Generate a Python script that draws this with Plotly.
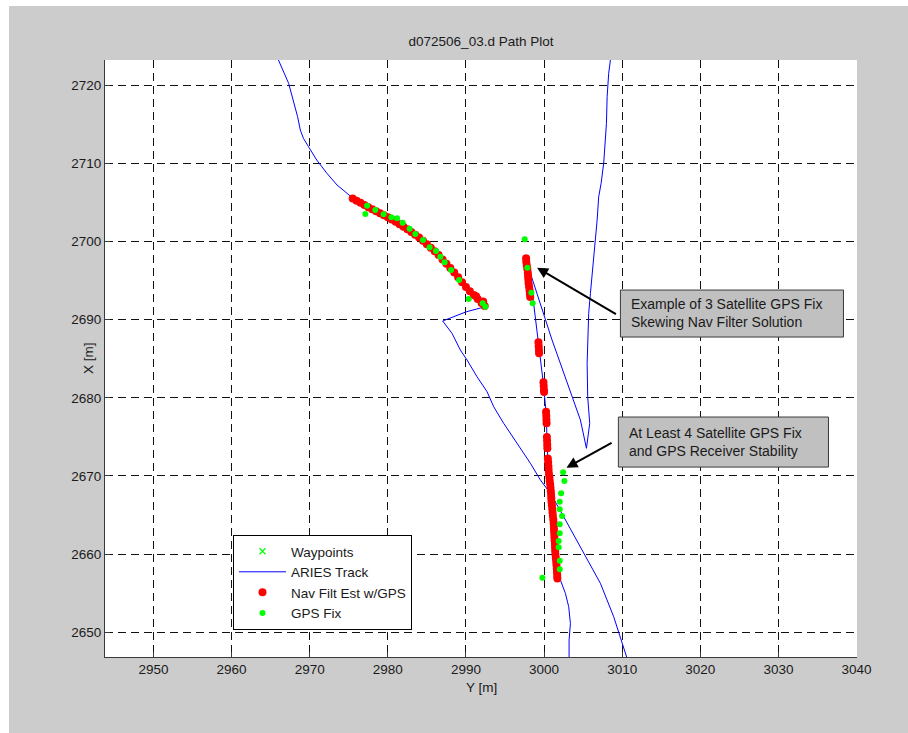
import plotly.graph_objects as go

# ---- ARIES track (vehicle path), two passes through the view ----
track_y = [
    # first pass: enters from top left, runs along the nav-filter arc, kinks, exits bottom
    2965.3, 2966.0, 2967.3, 2967.9, 2968.45, 2968.8, 2969.2, 2969.85, 2970.9, 2972.2,
    2973.5, 2975.2, 2975.45, 2977.76, 2979.9, 2982.02, 2984.16, 2986.3, 2988.43, 2990.14,
    2991.42, 2992.48, 2990.05, 2987.02, 2988.22, 2989.28, 2990.14, 2991.42, 2992.7, 2993.55,
    2994.83, 2996.54, 2998.25, 2999.53, 3000.81, 3002.51, 3005.07, 3007.21, 3008.91, 3010.63,
    3011.0,
    None,
    # second pass: enters from bottom, climbs the GPS column, doubles back, exits top
    3003.2, 3003.2, 3003.37, 3003.15, 3002.73, 3002.09, 3001.66, 3001.41, 3001.23, 3001.02,
    3000.72, 3000.51, 3000.38, 3000.29, 2999.95, 2999.31, 2999.1, 2998.25, 2997.73, 2998.46,
    3001.02, 3002.09, 3003.37, 3004.65, 3005.42, 3005.58, 3005.84, 3005.71, 3005.58, 3005.51,
    3005.71, 3005.93, 3006.27, 3006.57, 3006.79, 3006.99, 3007.3, 3007.63, 3007.85, 3007.98,
    3008.07, 3008.27, 3008.49, 3008.7,
]
track_x = [
    2725.0, 2723.2, 2720.22, 2718.08, 2715.95, 2714.24, 2713.18, 2712.11, 2710.41, 2708.71,
    2707.21, 2705.8, 2705.51, 2704.23, 2703.16, 2701.88, 2700.39, 2698.48, 2696.12, 2694.0,
    2692.72, 2691.65, 2691.0, 2689.82, 2688.24, 2686.11, 2684.83, 2682.69, 2680.78, 2678.86,
    2676.73, 2674.18, 2671.62, 2669.48, 2667.78, 2664.79, 2660.11, 2656.27, 2652.0, 2646.88,
    2645.5,
    None,
    2645.5, 2649.02, 2651.15, 2653.28, 2654.99, 2656.69, 2657.11, 2660.15, 2663.47, 2665.26,
    2669.23, 2671.53, 2674.34, 2677.54, 2681.5, 2686.49, 2688.24, 2695.44, 2697.75, 2695.28,
    2687.39, 2684.41, 2680.99, 2677.16, 2673.54, 2675.02, 2676.73, 2678.44, 2680.14, 2684.41,
    2690.8, 2693.36, 2696.76, 2700.18, 2702.73, 2705.71, 2707.43, 2709.99, 2712.97, 2715.1,
    2718.5, 2721.5, 2723.2, 2725.0,
]

# ---- Nav filter estimate with GPS ----
nav_y = [
    # arc on the first pass
    2975.5, 2976.0, 2976.5, 2977.0, 2977.5, 2978.0, 2978.5, 2979.0, 2979.5, 2980.0,
    2980.5, 2981.0, 2981.5, 2982.0, 2982.5, 2983.0, 2983.5, 2984.0, 2984.5, 2985.0,
    2985.5, 2986.0, 2986.5, 2987.0, 2987.5, 2988.0, 2988.5, 2989.0, 2989.5, 2990.0,
    2990.5, 2991.0, 2991.3, 2991.5, 2992.0, 2992.2, 2992.4,
    # column on the second pass, top cluster
    2997.7, 2997.72, 2997.78, 2997.85, 2997.92, 2997.95, 2997.98, 2998.02, 2998.08, 2998.14,
    2998.18, 2998.22,
    # isolated clusters
    2999.28, 2999.31, 2999.34, 2999.36,
    2999.92, 2999.95, 2999.98, 3000.0,
    3000.25, 3000.28, 3000.3, 3000.32,
    3000.36, 3000.38, 3000.4, 3000.42,
    3000.48, 3000.52, 3000.55, 3000.58,
    # lower continuous run
    3000.62, 3000.68, 3000.72, 3000.78, 3000.82, 3000.86, 3000.9, 3000.92, 3000.95, 3001.0,
    3001.05, 3001.08, 3001.12, 3001.18, 3001.22, 3001.25, 3001.27, 3001.3, 3001.32, 3001.35,
    3001.38, 3001.4, 3001.42, 3001.45, 3001.5, 3001.55, 3001.58, 3001.62, 3001.65, 3001.68,
    3001.7,
]
nav_x = [
    2705.48, 2705.21, 2704.93, 2704.65, 2704.37, 2704.11, 2703.86, 2703.61, 2703.36, 2703.1,
    2702.8, 2702.5, 2702.19, 2701.89, 2701.55, 2701.2, 2700.85, 2700.5, 2700.09, 2699.64,
    2699.2, 2698.75, 2698.26, 2697.7, 2697.15, 2696.6, 2696.03, 2695.41, 2694.79, 2694.17,
    2693.64, 2693.14, 2693.0, 2692.64, 2692.13, 2692.3, 2691.73,
    2697.85, 2697.4, 2696.95, 2696.5, 2696.0, 2695.55, 2695.1, 2694.65, 2694.2, 2693.75,
    2693.3, 2692.9,
    2687.1, 2686.6, 2686.1, 2685.7,
    2682.0, 2681.5, 2681.0, 2680.75,
    2678.2, 2677.7, 2677.2, 2676.75,
    2675.0, 2674.5, 2674.0, 2673.55,
    2672.25, 2671.75, 2671.25, 2670.8,
    2670.3, 2669.85, 2669.4, 2668.95, 2668.5, 2668.05, 2667.6, 2667.15, 2666.7, 2666.25,
    2665.8, 2665.35, 2664.9, 2664.45, 2664.0, 2663.55, 2663.1, 2662.65, 2662.2, 2661.75,
    2661.3, 2660.85, 2660.4, 2659.95, 2659.5, 2659.05, 2658.6, 2658.15, 2657.7, 2657.25,
    2656.9,
]

# ---- raw GPS fixes ----
gps_y = [
    2977.34, 2977.12, 2978.4, 2979.46, 2980.45, 2981.18, 2981.9, 2982.79, 2983.52, 2984.51,
    2985.35, 2986.17, 2986.72, 2987.27, 2988.09, 2989.12, 2990.35, 2992.14, 2992.48,
    2997.52, 2997.86, 2998.37, 2998.54,
    3002.43, 3002.6, 3002.18, 3002.0, 3002.0, 3002.3, 3002.0, 3002.0, 3001.87, 3001.87,
    3002.0, 3002.0, 2999.78,
]
gps_x = [
    2704.56, 2703.5, 2704.01, 2703.46, 2703.08, 2702.95, 2702.39, 2701.62, 2700.94, 2700.18,
    2699.24, 2698.77, 2698.04, 2697.32, 2696.34, 2695.06, 2692.63, 2692.08, 2691.65,
    2700.27, 2696.63, 2693.44, 2692.08,
    2670.47, 2669.35, 2667.78, 2666.71, 2665.74, 2664.88, 2663.82, 2662.67, 2661.68, 2660.87,
    2659.16, 2658.06, 2656.99,
]

# ---- axes ----
y_range = [2943.8, 3040.05]
x_range = [2646.85, 2723.2]
y_ticks = [2950, 2960, 2970, 2980, 2990, 3000, 3010, 3020, 3030, 3040]
x_ticks = [2650, 2660, 2670, 2680, 2690, 2700, 2710, 2720]

# ---- callouts: arrow tips, arrow tails, box corners, text anchors ----
note_texts = [
    "Example of 3 Satellite GPS Fix<br>Skewing Nav Filter Solution",
    "At Least 4 Satellite GPS Fix<br>and GPS Receiver Stability",
]
note_tips = [(2999.10, 2696.63), (3002.86, 2671.06)]
note_tails = [(3009.39, 2690.58), (3008.83, 2674.34)]
note_boxes = [(3009.77, 2687.77, 3038.32, 2693.78), (3009.51, 2671.14, 3036.40, 2677.54)]
note_text_pos = [(3010.92, 2690.84), (3010.63, 2674.34)]

FONT = "Liberation Sans, Arial, Helvetica, sans-serif"
TXT = "#1a1a1a"

fig = go.Figure()

fig.add_trace(go.Scatter(
    x=[None], y=[None], mode="markers", name="Waypoints",
    marker=dict(symbol="x-thin", size=6, color="#00ff00", line=dict(width=1.2, color="#00ff00")),
))
fig.add_trace(go.Scatter(
    x=track_y, y=track_x, mode="lines", name="ARIES Track",
    line=dict(color="#0000ff", width=1), connectgaps=False,
))
fig.add_trace(go.Scatter(
    x=nav_y, y=nav_x, mode="markers", name="Nav Filt Est w/GPS",
    marker=dict(color="#ff0000", size=8, line=dict(width=0)),
))
fig.add_trace(go.Scatter(
    x=gps_y, y=gps_x, mode="markers", name="GPS Fix",
    marker=dict(color="#00ff00", size=6, line=dict(width=0)),
))

axis_common = dict(
    showgrid=True, gridcolor="#111111", gridwidth=1, griddash="8px,5px",
    showline=True, linecolor="#3a3a3a", linewidth=1,
    ticks="inside", ticklen=5, tickcolor="#3a3a3a", tickwidth=1,
    zeroline=False, mirror=False,
    tickfont=dict(family=FONT, size=13.5, color=TXT),
)

fig.update_xaxes(range=y_range, tickvals=y_ticks, **axis_common)
fig.update_yaxes(range=x_range, tickvals=x_ticks, **axis_common)

shapes = [
    # white strips along the left and top edges of the page
    dict(type="rect", xref="paper", yref="paper", x0=-0.3, x1=-0.12766, y0=-0.3, y1=1.3,
         fillcolor="white", line=dict(width=0), layer="below"),
    dict(type="rect", xref="paper", yref="paper", x0=-0.3, x1=1.3, y0=1.0905, y1=1.3,
         fillcolor="white", line=dict(width=0), layer="below"),
]
for (bx0, by0, bx1, by1) in note_boxes:
    shapes.append(dict(type="rect", xref="x", yref="y", x0=bx0, y0=by0, x1=bx1, y1=by1,
                       fillcolor="#c0c0c0", line=dict(color="#3a3a3a", width=1), layer="above"))

annotations = []
for (tx, ty), (sx, sy) in zip(note_tips, note_tails):
    annotations.append(dict(
        x=tx, y=ty, xref="x", yref="y", ax=sx, ay=sy, axref="x", ayref="y",
        text="", showarrow=True, arrowhead=2, arrowsize=1.1, arrowwidth=2, arrowcolor="black",
    ))
for txt, (px, py) in zip(note_texts, note_text_pos):
    annotations.append(dict(
        x=px, y=py, xref="x", yref="y", text=txt, showarrow=False,
        xanchor="left", yanchor="middle", align="left",
        font=dict(family=FONT, size=14, color=TXT),
    ))
annotations.append(dict(
    x=0.5, y=-0.0519, xref="paper", yref="paper", text="Y [m]", showarrow=False,
    xanchor="center", yanchor="middle", font=dict(family=FONT, size=13.5, color=TXT),
))
annotations.append(dict(
    x=-0.0226, y=0.5008, xref="paper", yref="paper", text="X [m]", showarrow=False,
    textangle=-90, xanchor="center", yanchor="middle", font=dict(family=FONT, size=13.5, color=TXT),
))

fig.update_layout(
    width=908, height=733,
    margin=dict(l=105, r=51, t=60, b=76),
    paper_bgcolor="#cccccc", plot_bgcolor="white",
    title=dict(text="d072506_03.d Path Plot", x=0.5, xref="paper", y=1 - 41 / 733,
               yanchor="middle", font=dict(family=FONT, size=13.5, color=TXT)),
    legend=dict(x=0.1702, y=0.2044, xanchor="left", yanchor="top",
                bgcolor="white", bordercolor="black", borderwidth=1, itemwidth=47,
                font=dict(family=FONT, size=13.5, color=TXT), tracegroupgap=0),
    shapes=shapes, annotations=annotations, showlegend=True,
)

fig.write_html("out.html")
